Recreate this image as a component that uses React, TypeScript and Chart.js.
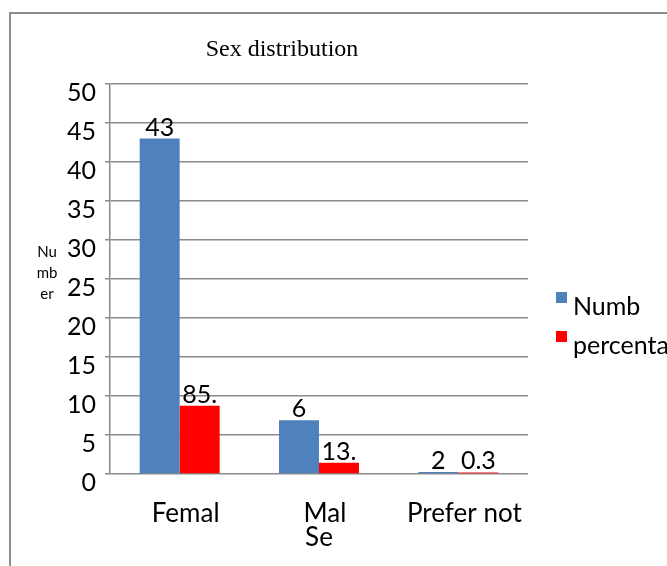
import React, { useEffect, useRef } from "react";
import { Chart, registerables } from "chart.js";

Chart.register(...registerables);

const categories = ["Femal", "Mal", "Prefer not"];
const numberValues = [43, 6.9, 0.25];
const percentValues = [8.75, 1.45, 0.2];
const numberLabels = ["43", "6", "2"];
const percentLabels = ["85.", "13.", "0.3"];
const seriesNames = ["Numb", "percentage"];
const yTitleLines = ["Nu", "mb", "er"];
const chartTitle = "Sex distribution";
const xTitle = "Se";

const SANS = "Lato";

const framePlugin = {
  id: "frame",
  beforeDraw(chart: any) {
    const ctx = chart.ctx;
    ctx.save();
    ctx.strokeStyle = "#8c8c8c";
    ctx.lineWidth = 2;
    ctx.beginPath();
    ctx.moveTo(10, chart.height + 5);
    ctx.lineTo(10, 13);
    ctx.lineTo(chart.width + 5, 13);
    ctx.stroke();
    ctx.restore();
  },
  afterDraw(chart: any) {
    const ctx = chart.ctx;
    ctx.save();
    ctx.fillStyle = "#000";
    ctx.font = '24px "Liberation Serif", "Times New Roman", serif';
    ctx.textAlign = "center";
    ctx.textBaseline = "alphabetic";
    ctx.fillText(chartTitle, 282, 56);
    ctx.font = `15px ${SANS}`;
    yTitleLines.forEach((t, i) => ctx.fillText(t, 47, 257 + i * 21));
    chart.data.datasets.forEach((ds: any, i: number) => {
      const y = 292 + i * 39;
      ctx.fillStyle = ds.backgroundColor;
      ctx.fillRect(556, y, 11, 11);
      ctx.fillStyle = "#000";
      ctx.font = `25px ${SANS}`;
      ctx.textAlign = "left";
      ctx.fillText(ds.label, 573, y + 23);
    });
    ctx.restore();
  },
  afterDatasetsDraw(chart: any) {
    const ctx = chart.ctx;
    const labelSets = [numberLabels, percentLabels];
    ctx.save();
    ctx.fillStyle = "#000";
    ctx.font = `25px ${SANS}`;
    ctx.textAlign = "center";
    ctx.textBaseline = "alphabetic";
    chart.data.datasets.forEach((_: any, di: number) => {
      const meta = chart.getDatasetMeta(di);
      meta.data.forEach((bar: any, i: number) => {
        ctx.fillText(labelSets[di][i], bar.x, bar.y - 3);
      });
    });
    ctx.restore();
  },
};

export default function App() {
  const ref = useRef<HTMLCanvasElement | null>(null);
  useEffect(() => {
    if (!ref.current) return;
    const chart = new Chart(ref.current, {
      type: "bar",
      data: {
        labels: categories,
        datasets: [
          {
            label: seriesNames[0],
            data: numberValues,
            backgroundColor: "#4F81BD",
            categoryPercentage: 0.574,
            barPercentage: 1,
          },
          {
            label: seriesNames[1],
            data: percentValues,
            backgroundColor: "#FF0000",
            categoryPercentage: 0.574,
            barPercentage: 1,
          },
        ],
      },
      options: {
        animation: false,
        responsive: true,
        maintainAspectRatio: false,
        layout: { padding: { top: 84, right: 139, left: 0, bottom: 0 } },
        plugins: {
          legend: { display: false },
          title: { display: false },
          tooltip: { enabled: false },
        },
        scales: {
          x: {
            grid: { display: false },
            border: { display: false },
            ticks: {
              color: "#000",
              font: { family: SANS, size: 26 },
              padding: 16,
              labelOffset: 6,
              maxRotation: 0,
              autoSkip: false,
            },
            title: {
              display: true,
              text: xTitle,
              color: "#000",
              font: { family: SANS, size: 26 },
              padding: { top: 0, bottom: 13 },
            },
            afterFit(scale: any) {
              scale.height = 92;
            },
          },
          y: {
            min: 0,
            max: 50,
            grid: { color: "#8a8a8a", lineWidth: 1.5, tickLength: 5 },
            border: { display: true, color: "#8a8a8a", width: 1.5 },
            ticks: {
              stepSize: 5,
              color: "#000",
              font: { family: SANS, size: 25 },
              padding: 9,
              labelOffset: 9,
            },
            afterFit(scale: any) {
              scale.width = 110;
            },
          },
        },
      },
      plugins: [framePlugin],
    });
    return () => chart.destroy();
  }, []);
  return (
    <div style={{ position: "absolute", left: 0, top: 0, width: 667, height: 566, background: "#fff" }}>
      <canvas ref={ref} />
    </div>
  );
}
